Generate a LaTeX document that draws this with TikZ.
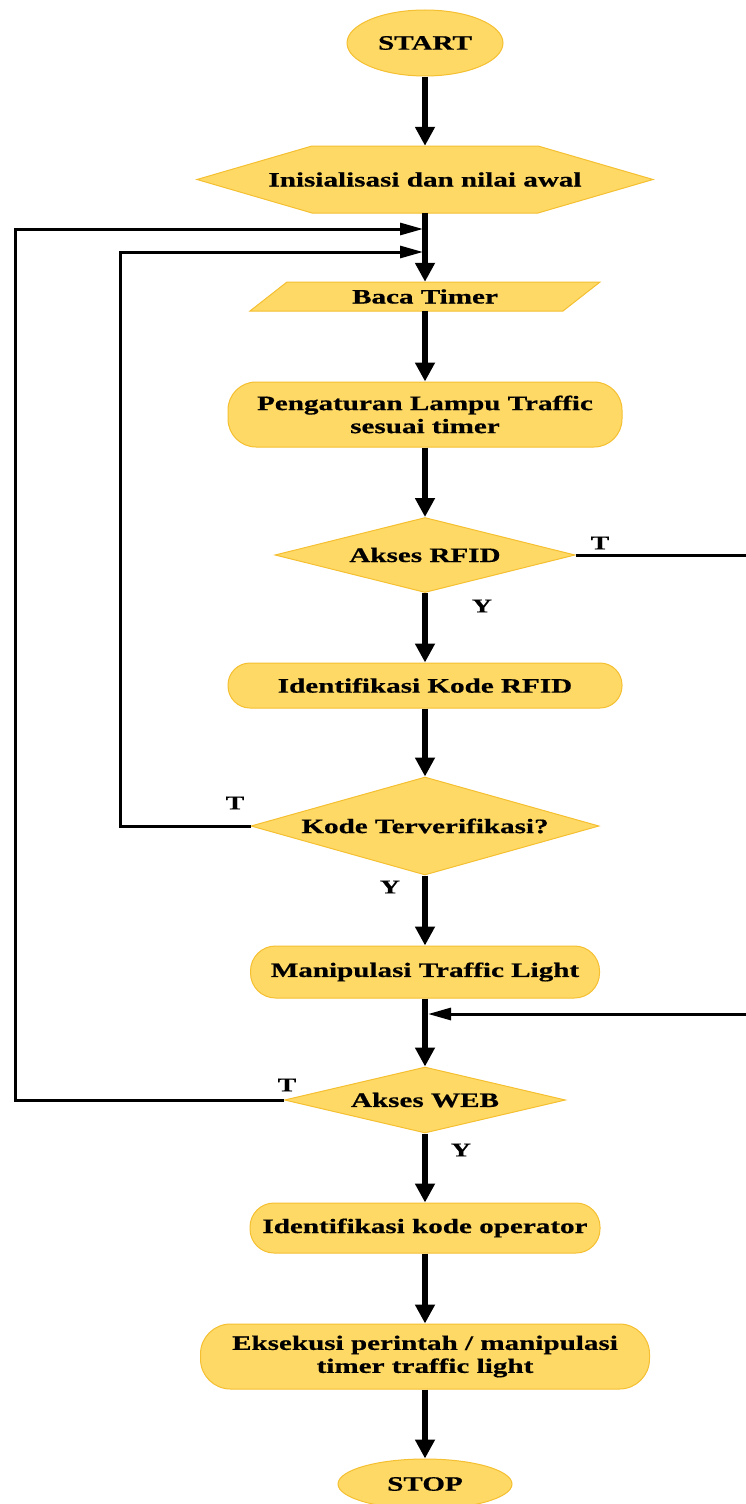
\documentclass[tikz,border=0pt]{standalone}
\usepackage{fontspec}
\setmainfont{Liberation Serif}[FakeStretch=1.42,BoldFeatures={FakeBold=0.6}]
\usetikzlibrary{arrows.meta,shapes.geometric,shapes.misc}
\definecolor{boxfill}{HTML}{FFD966}
\definecolor{boxline}{HTML}{F4BF30}
\tikzset{
  every node/.style={font=\fontsize{20.5}{23}\selectfont\bfseries},
  box/.style={draw=boxline, fill=boxfill, line width=1pt, inner sep=0pt, align=center},
  term/.style={box, ellipse},
  proc/.style={box, rectangle, rounded corners=#1},
  dec/.style={box, diamond},
  holder/.style={inner sep=0pt, align=center},
  shapeline/.style={draw=boxline, fill=boxfill, line width=1pt},
  flow/.style={line width=5.5pt, -{Triangle[length=19pt,width=19pt]}},
  back/.style={line width=3pt, -{Triangle[length=23pt,width=12pt]}},
  lbl/.style={font=\fontsize{19.5}{22}\selectfont\bfseries},
}
\begin{document}
\begin{tikzpicture}[x=1pt,y=-1pt]
\useasboundingbox (0,0) rectangle (745,1504);
% hexagon and parallelogram outlines
\path[shapeline] (197,179.5) -- (312,146) -- (538,146) -- (653,179.5) -- (538,213) -- (312,213) -- cycle;
\path[shapeline] (250,311) -- (287,282) -- (600,282) -- (563,311) -- cycle;
% nodes
\node[term, minimum width=156pt, minimum height=66pt] (start) at (425,43) {START};
\node[holder, minimum width=456pt, minimum height=67pt] (ini) at (425,179.5) {Inisialisasi dan nilai awal};
\node[holder, minimum width=350pt, minimum height=29pt] (baca) at (425,296.5) {Baca Timer};
\node[proc=28pt, minimum width=394pt, minimum height=65pt] (atur) at (425,414.5) {Pengaturan Lampu Traffic\\sesuai timer};
\node[dec, minimum width=300pt, minimum height=75pt] (rfid) at (425,555) {\makebox[0pt]{Akses RFID}};
\node[proc=22pt, minimum width=394pt, minimum height=45pt] (idrfid) at (425,685.5) {Identifikasi Kode RFID};
\node[dec, minimum width=348pt, minimum height=98pt] (kv) at (425,826) {\makebox[0pt]{Kode Terverifikasi?}};
\node[proc=25pt, minimum width=349pt, minimum height=52pt] (manip) at (425,972) {\raisebox{-2pt}{Manipulasi Traffic Light}};
\node[dec, minimum width=281pt, minimum height=66pt] (web) at (425,1100) {\makebox[0pt]{Akses WEB}};
\node[proc=24pt, minimum width=350pt, minimum height=50pt] (idop) at (425,1228) {\raisebox{-2pt}{Identifikasi kode operator}};
\node[proc=30pt, minimum width=449pt, minimum height=65pt] (eks) at (425,1356.5) {Eksekusi perintah / manipulasi\\timer traffic light};
\node[term, minimum width=174pt, minimum height=50pt] (stop) at (425,1484) {STOP};
% main flow
\draw[flow] (start.south) -- (ini.north);
\draw[flow] (ini.south) -- (baca.north);
\draw[flow] (baca.south) -- (atur.north);
\draw[flow] (atur.south) -- (rfid.north);
\draw[flow] (rfid.south) -- (idrfid.north);
\draw[flow] (idrfid.south) -- (kv.north);
\draw[flow] (kv.south) -- (manip.north);
\draw[flow] (manip.south) -- (web.north);
\draw[flow] (web.south) -- (idop.north);
\draw[flow] (idop.south) -- (eks.north);
\draw[flow] (eks.south) -- (stop.north);
% loops
\coordinate (j1) at (423,229);
\coordinate (j2) at (423,252);
\coordinate (j3) at (428,1014);
\coordinate (xa) at (15,0);
\coordinate (xb) at (120,0);
\coordinate (xc) at (748,0);
\draw[back] (web.west) -- (web.west -| xa) -- (j1 -| xa) -- (j1);
\draw[back] (kv.west) -- (kv.west -| xb) -- (j2 -| xb) -- (j2);
\draw[back] (rfid.east) -- (rfid.east -| xc) -- (j3 -| xc) -- (j3);
% labels
\node[lbl] (tr) at (600,543) {T};
\node[lbl] (yr) at (482,606) {Y};
\node[lbl] (tk) at (235,803) {T};
\node[lbl] (yk) at (390,887) {Y};
\node[lbl] (tw) at (287,1085) {T};
\node[lbl] (yw) at (461,1150) {Y};
\end{tikzpicture}
\end{document}
